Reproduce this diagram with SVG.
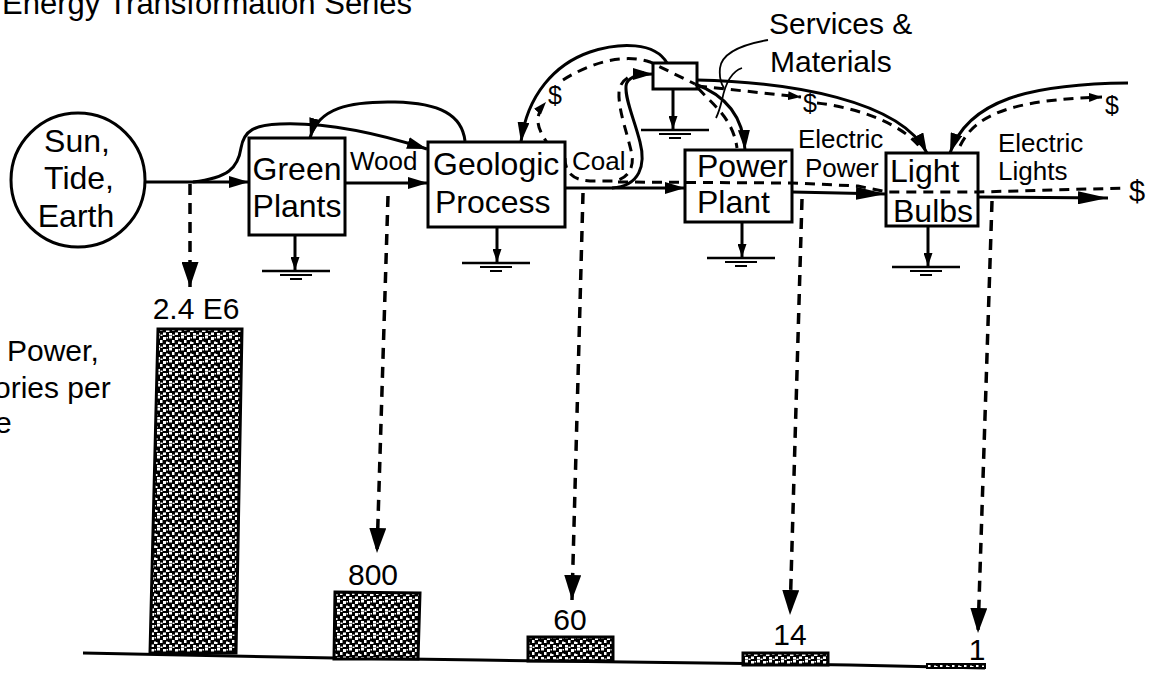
<svg xmlns="http://www.w3.org/2000/svg" width="1149" height="673" viewBox="0 0 1149 673">
<style>
  text { font-family: "Liberation Sans", Arial, Helvetica, sans-serif; fill: #000; }
  .big { font-size: 32px; }
  .lbl { font-size: 26px; }
  .num { font-size: 30px; text-anchor: middle; }
  .usd { font-size: 25px; }
  .box { fill: #fff; stroke: #000; stroke-width: 3; }
  .sol { fill: none; stroke: #000; stroke-width: 3; stroke-linecap: butt; }
  .thin { fill: none; stroke: #000; stroke-width: 1.8; }
  .dsh { fill: none; stroke: #000; stroke-width: 3; stroke-dasharray: 10 7; }
  .dv { fill: none; stroke: #000; stroke-width: 3.5; stroke-dasharray: 11 8; }
  .bar { fill: url(#stip); stroke: #000; stroke-width: 3; }
  .gl { stroke: #000; fill: none; }
</style>
<defs>
  <pattern id="stip" width="12" height="12" patternUnits="userSpaceOnUse">
    <rect width="12" height="12" fill="#000"/>
    <g fill="#fff">
      <rect x="1" y="0" width="3" height="2.5"/>
      <rect x="7" y="1" width="3" height="3"/>
      <rect x="4" y="4" width="2.5" height="3"/>
      <rect x="10" y="5.5" width="2" height="2.5"/>
      <rect x="0" y="6" width="1.5" height="2"/>
      <rect x="1" y="9" width="3" height="2.5"/>
      <rect x="7" y="8.5" width="3" height="2.5"/>
      <rect x="4.5" y="10.5" width="2" height="1.5"/>
      <rect x="10.5" y="1" width="1.5" height="1.5"/>
    </g>
  </pattern>
  <marker id="ah" viewBox="0 0 20 12" refX="20" refY="6" markerWidth="20" markerHeight="12" markerUnits="userSpaceOnUse" orient="auto">
    <path d="M0,0 L20,6 L0,12 z" fill="#000"/>
  </marker>
  <marker id="ahL" viewBox="0 0 30 13" refX="30" refY="6.5" markerWidth="30" markerHeight="13" markerUnits="userSpaceOnUse" orient="auto">
    <path d="M0,0 L30,6.5 L0,13 z" fill="#000"/>
  </marker>
  <marker id="ahD" viewBox="0 0 25 17" refX="25" refY="8.5" markerWidth="25" markerHeight="17" markerUnits="userSpaceOnUse" orient="auto">
    <path d="M0,0 L25,8.5 L0,17 z" fill="#000"/>
  </marker>
  <marker id="ahS" viewBox="0 0 13 9" refX="13" refY="4.5" markerWidth="13" markerHeight="9" markerUnits="userSpaceOnUse" orient="auto">
    <path d="M0,0 L13,4.5 L0,9 z" fill="#000"/>
  </marker>
  <g id="gnd">
    <path class="gl" stroke-width="2.5" d="M-34 0 H34"/>
    <path class="gl" stroke-width="2" d="M-16 4 H16"/>
    <path class="gl" stroke-width="2" d="M-6 8 H6"/>
  </g>
</defs>
<rect width="1149" height="673" fill="#fff"/>

<g id="title">
  <text x="2" y="14" style="font-size:31px">Energy Transformation Series</text>
</g>

<g id="axis-label">
  <text x="7" y="361" style="font-size:30px">Power,</text>
  <text x="-6" y="398" style="font-size:30px">ories per</text>
  <text x="-5" y="433" style="font-size:30px">e</text>
</g>

<g id="connectors">
  <!-- main solid flows -->
  <path class="sol" d="M146 182 L249 182" marker-end="url(#ah)"/>
  <path class="sol" d="M345 183 L428 183" marker-end="url(#ah)"/>
  <path class="sol" d="M565 188 L685 188" marker-end="url(#ah)"/>
  <path class="sol" d="M792 192 L886 194" marker-end="url(#ahL)"/>
  <path class="sol" d="M978 197 L1108 198" marker-end="url(#ahL)"/>
  <!-- feedback curves -->
  <path class="sol" d="M193 182 C228 178, 238 168, 241 148 C244 130, 255 125, 280 124 C330 122, 380 134, 427 149" marker-end="url(#ah)"/>
  <path class="sol" d="M465 141 C462 115, 440 103, 395 102 C350 101, 318 108, 310 138" marker-end="url(#ah)"/>
  <path class="sol" d="M667 63 C655 42, 620 42, 590 52 C555 64, 527 95, 521 142" marker-end="url(#ah)"/>
  <path class="sol" d="M612 188 C640 186, 646 165, 640 142 C634 118, 625 100, 626 86 C627 77, 638 74, 653 74" marker-end="url(#ah)"/>
  <path class="sol" d="M695 84 C720 93, 743 112, 745 150" marker-end="url(#ah)"/>
  <path class="sol" d="M697 80 C790 82, 900 100, 927 153" marker-end="url(#ah)"/>
  <path class="sol" d="M1128 83 C1030 84, 968 100, 950 153" marker-end="url(#ah)"/>
  <!-- money (dashed) flows -->
  <path class="dsh" d="M550 147 C538 130, 532 118, 546 102" marker-end="url(#ahS)"/>
  <path class="dsh" d="M563 80 C585 66, 620 52, 650 62 L695 84"/>
  <path class="dsh" d="M565 158 C565 172, 572 180, 590 181 L615 181 C628 178, 634 168, 632 155 C628 135, 618 110, 619 92 C620 80, 630 73, 650 72"/>
  <path class="dsh" d="M618 182 L792 183 L858 186 L887 192 L978 192 L1127 188"/>
  <path class="dsh" d="M698 88 C712 104, 733 118, 737 148"/>
  <path class="dsh" d="M697 86 L801 97" marker-end="url(#ahS)"/>
  <path class="dsh" d="M817 103 C860 108, 905 125, 922 150"/>
  <path class="dsh" d="M960 146 C975 115, 1010 100, 1102 97" marker-end="url(#ahS)"/>
  <!-- services leader -->
  <path class="thin" d="M768 40 C745 44, 722 52, 720 68 C719 78, 722 85, 724 88"/>
  <path class="thin" d="M742 68 C730 72, 725 85, 722 100 C720 108, 718 114, 716 118"/>
  <!-- dashed drops to bars -->
  <path class="dv" d="M190 184 L190 287" marker-end="url(#ahD)"/>
  <path class="dv" d="M388 196 L377 553" marker-end="url(#ahD)"/>
  <path class="dv" d="M583 193 L572 600" marker-end="url(#ahD)"/>
  <path class="dv" d="M802 199 L790 615" marker-end="url(#ahD)"/>
  <path class="dv" d="M992 201 L978 633" marker-end="url(#ahD)"/>
  <!-- heat sinks -->
  <path class="sol" stroke-width="2.5" d="M295 235 L295 270" marker-end="url(#ahS)"/>
  <path class="sol" stroke-width="2.5" d="M497 227 L497 262" marker-end="url(#ahS)"/>
  <path class="sol" stroke-width="2.5" d="M673 89 L673 129" marker-end="url(#ahS)"/>
  <path class="sol" stroke-width="2.5" d="M742 222 L742 257" marker-end="url(#ahS)"/>
  <path class="sol" stroke-width="2.5" d="M928 226 L928 266" marker-end="url(#ahS)"/>
  <use href="#gnd" x="296" y="271"/>
  <use href="#gnd" x="496" y="263"/>
  <use href="#gnd" x="675" y="130"/>
  <use href="#gnd" x="741" y="258"/>
  <use href="#gnd" x="926" y="267"/>
</g>

<g id="flow-labels">
  <text class="lbl" x="350" y="170">Wood</text>
  <text class="lbl" x="572" y="170">Coal</text>
  <text class="lbl" x="798" y="148">Electric</text>
  <text class="lbl" x="805" y="177">Power</text>
  <text class="lbl" x="998" y="152">Electric</text>
  <text class="lbl" x="998" y="180">Lights</text>
  <text class="usd" x="548" y="104">$</text>
  <text class="usd" x="803" y="112">$</text>
  <text class="usd" x="1105" y="114">$</text>
  <text x="1129" y="201" style="font-size:29px">$</text>
</g>

<g id="sun">
  <circle cx="78" cy="180" r="67" fill="#fff" stroke="#000" stroke-width="3"/>
  <text class="big" x="77" y="152" text-anchor="middle">Sun,</text>
  <text class="big" x="79" y="189" text-anchor="middle">Tide,</text>
  <text class="big" x="76" y="227" text-anchor="middle">Earth</text>
</g>

<g id="green-plants">
  <rect class="box" x="249" y="138" width="96" height="97"/>
  <text class="big" x="297" y="180" text-anchor="middle">Green</text>
  <text class="big" x="297" y="217" text-anchor="middle">Plants</text>
</g>

<g id="geologic-process">
  <rect class="box" x="428" y="142" width="137" height="85"/>
  <text class="big" x="433" y="175">Geologic</text>
  <text class="big" x="435" y="213">Process</text>
</g>

<g id="services-materials">
  <rect class="box" x="653" y="63" width="44" height="26" style="fill:none"/>
  <text x="769" y="34" style="font-size:30px">Services &amp;</text>
  <text x="770" y="72" style="font-size:30px">Materials</text>
</g>

<g id="power-plant">
  <rect class="box" x="685" y="150" width="107" height="72" style="fill:none"/>
  <text class="big" x="697" y="177">Power</text>
  <text class="big" x="697" y="213">Plant</text>
</g>

<g id="light-bulbs">
  <rect class="box" x="886" y="153" width="92" height="73" style="fill:none"/>
  <text class="big" x="890" y="182">Light</text>
  <text class="big" x="893" y="222">Bulbs</text>
</g>

<g id="bars">
  <polyline points="83,653 335,658 480,660 850,665 985,668" fill="none" stroke="#000" stroke-width="3"/>
  <g id="bar-sun">
    <polygon class="bar" points="158,329 242,329 236,653 150,653"/>
    <text class="num" x="196" y="319">2.4 E6</text>
  </g>
  <g id="bar-wood">
    <polygon class="bar" points="335,592 420,593 418,659 334,659"/>
    <text class="num" x="373" y="585">800</text>
  </g>
  <g id="bar-coal">
    <rect class="bar" x="528" y="637" width="85" height="24"/>
    <text class="num" x="570" y="630">60</text>
  </g>
  <g id="bar-power">
    <rect class="bar" x="743" y="653" width="85" height="12"/>
    <text class="num" x="790" y="645">14</text>
  </g>
  <g id="bar-light">
    <rect class="bar" x="927" y="664" width="58" height="4" style="stroke-width:2"/>
    <text class="num" x="977" y="660">1</text>
  </g>
</g>
</svg>
